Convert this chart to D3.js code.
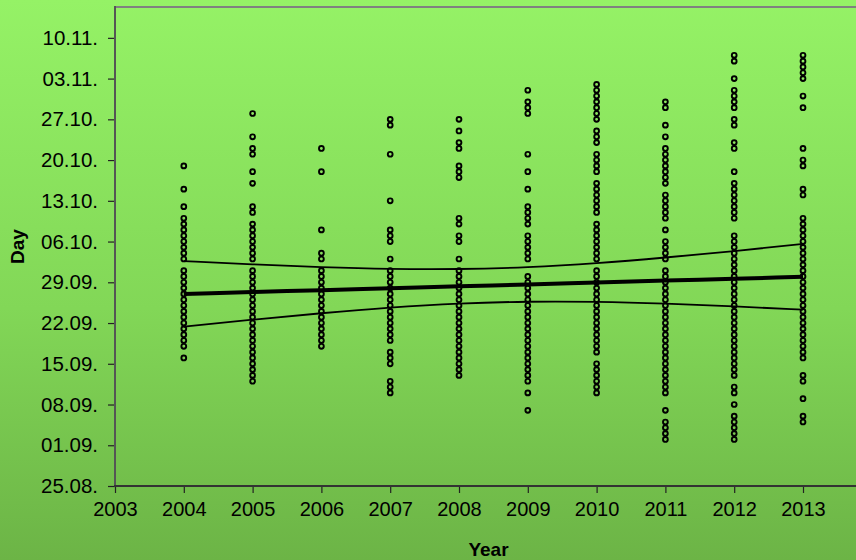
<!DOCTYPE html>
<html><head><meta charset="utf-8">
<script src="https://cdn.jsdelivr.net/npm/d3@7"></script>
<style>html,body{margin:0;padding:0;overflow:hidden;background:#7fd055;}</style>
</head><body>
<svg id="chart" width="856" height="560"></svg>
<script>
// ---- data ----
const years = [2004, 2005, 2006, 2007, 2008, 2009, 2010, 2011, 2012, 2013];
const xTickLabels = ["2003","2004","2005","2006","2007","2008","2009","2010","2011","2012","2013"];
const yTickLabels = ["25.08.","01.09.","08.09.","15.09.","22.09.","29.09.","06.10.","13.10.","20.10.","27.10.","03.11.","10.11."];

const d2004 = ["19.10","15.10","12.10","10.10","09.10","08.10","07.10","06.10","05.10","04.10","03.10","01.10","30.09","29.09","28.09","27.09","26.09","25.09","24.09","23.09","22.09","21.09","20.09","19.09","18.09","16.09"];
const d2005 = ["28.10","24.10","22.10","21.10","18.10","16.10","12.10","11.10","09.10","08.10","07.10","06.10","05.10","04.10","03.10","01.10","30.09","29.09","28.09","27.09","26.09","25.09","24.09","23.09","22.09","21.09","20.09","19.09","18.09","17.09","16.09","15.09","14.09","13.09","12.09"];
const d2006 = ["22.10","18.10","08.10","04.10","03.10","01.10","30.09","29.09","28.09","27.09","26.09","25.09","24.09","23.09","22.09","21.09","20.09","19.09","18.09"];
const d2007 = ["27.10","26.10","21.10","13.10","08.10","07.10","06.10","03.10","01.10","30.09","29.09","28.09","27.09","26.09","25.09","24.09","23.09","22.09","21.09","20.09","19.09","17.09","16.09","15.09","12.09","11.09","10.09"];
const d2008 = ["27.10","25.10","23.10","22.10","19.10","18.10","17.10","10.10","09.10","07.10","06.10","03.10","01.10","30.09","29.09","28.09","27.09","26.09","25.09","24.09","23.09","22.09","21.09","20.09","19.09","18.09","17.09","16.09","15.09","14.09","13.09"];
const d2009 = ["01.11","30.10","29.10","28.10","21.10","18.10","15.10","12.10","11.10","10.10","09.10","07.10","06.10","05.10","04.10","03.10","30.09","29.09","28.09","27.09","26.09","25.09","24.09","23.09","22.09","21.09","20.09","19.09","18.09","17.09","16.09","15.09","14.09","13.09","12.09","10.09","07.09"];
const d2010 = ["02.11","01.11","31.10","30.10","29.10","28.10","27.10","25.10","24.10","23.10","21.10","20.10","19.10","18.10","16.10","15.10","14.10","13.10","12.10","11.10","09.10","08.10","07.10","06.10","05.10","04.10","03.10","01.10","30.09","29.09","28.09","27.09","26.09","25.09","24.09","23.09","22.09","21.09","20.09","19.09","18.09","17.09","15.09","14.09","13.09","12.09","11.09","10.09"];
const d2011 = ["30.10","29.10","26.10","24.10","22.10","21.10","20.10","19.10","18.10","17.10","16.10","14.10","13.10","12.10","11.10","10.10","08.10","06.10","05.10","04.10","03.10","01.10","30.09","29.09","28.09","27.09","26.09","25.09","24.09","23.09","22.09","21.09","20.09","19.09","18.09","17.09","16.09","15.09","14.09","13.09","12.09","11.09","10.09","07.09","05.09","04.09","03.09","02.09"];
const d2012 = ["07.11","06.11","03.11","01.11","31.10","30.10","29.10","27.10","26.10","23.10","22.10","18.10","16.10","15.10","14.10","13.10","12.10","11.10","10.10","07.10","06.10","05.10","04.10","03.10","02.10","01.10","30.09","29.09","28.09","27.09","26.09","25.09","24.09","23.09","22.09","21.09","20.09","19.09","18.09","17.09","16.09","15.09","14.09","13.09","11.09","10.09","08.09","06.09","05.09","04.09","03.09","02.09"];
const d2013 = ["07.11","06.11","05.11","04.11","03.11","31.10","29.10","22.10","20.10","19.10","15.10","14.10","10.10","09.10","08.10","07.10","06.10","05.10","04.10","03.10","02.10","01.10","30.09","29.09","28.09","27.09","26.09","25.09","24.09","23.09","22.09","21.09","20.09","19.09","18.09","17.09","16.09","13.09","12.09","09.09","06.09","05.09"];
const datesByYear = [d2004, d2005, d2006, d2007, d2008, d2009, d2010, d2011, d2012, d2013];

// regression line and confidence band (day of year)
const trendDoy = [270.00, 270.33, 270.65, 270.98, 271.31, 271.63, 271.96, 272.29, 272.61, 272.94];
const upperDoy = [275.64, 275.09, 274.62, 274.31, 274.28, 274.60, 275.29, 276.26, 277.37, 278.58];
const lowerDoy = [264.36, 265.57, 266.68, 267.65, 268.34, 268.66, 268.63, 268.32, 267.85, 267.30];

// ---- helpers ----
const baseDate = new Date(2001, 0, 1);
function doy(s) {
  const p = s.split(".").map(Number);
  return d3.timeDay.count(baseDate, new Date(2001, p[1] - 1, p[0])) + 1;
}

const W = 856, H = 560;
const svg = d3.select("#chart");
const defs = svg.append("defs");
const grad = defs.append("linearGradient").attr("id","bg").attr("x1",0).attr("y1",0).attr("x2",0).attr("y2",1);
grad.append("stop").attr("offset","0%").attr("stop-color","#95f266");
grad.append("stop").attr("offset","55%").attr("stop-color","#82d757");
grad.append("stop").attr("offset","100%").attr("stop-color","#6cb446");
svg.append("rect").attr("width",W).attr("height",H).attr("fill","url(#bg)");

const plotLeft = 115, plotTop = 7, plotBottom = 486;
const x = d3.scaleLinear().domain([2003, 2014]).range([plotLeft, plotLeft + 11 * 68.8]);
const y = d3.scaleLinear().domain([237, 319.3]).range([plotBottom, plotTop]);

// frame
svg.append("line").attr("x1",plotLeft).attr("x2",W+5).attr("y1",plotTop).attr("y2",plotTop)
  .attr("stroke","#808080").attr("stroke-width",2);

// axes
const font = "'Liberation Sans', Arial, sans-serif";
const yAxis = d3.axisLeft(y)
  .tickValues(yTickLabels.map(doy))
  .tickFormat((d,i) => yTickLabels[i])
  .tickSize(7).tickPadding(10);
const gy = svg.append("g").attr("transform",`translate(${plotLeft},0)`).call(yAxis);
gy.select(".domain").remove();
gy.selectAll(".tick line").attr("stroke","#222").attr("stroke-width",1.2);
gy.selectAll(".tick text").attr("font-family",font).attr("font-size",20.5).attr("fill","#000");

const xAxis = d3.axisBottom(x)
  .tickValues(xTickLabels.map(Number))
  .tickFormat((d,i) => xTickLabels[i])
  .tickSize(7).tickPadding(9);
const gx = svg.append("g").attr("transform",`translate(0,${plotBottom})`).call(xAxis);
gx.select(".domain").remove();
gx.selectAll(".tick line").attr("stroke","#222").attr("stroke-width",1.2);
gx.selectAll(".tick text").attr("font-family",font).attr("font-size",20).attr("fill","#000");

svg.append("line").attr("x1",plotLeft).attr("x2",plotLeft).attr("y1",plotTop-1).attr("y2",plotBottom)
  .attr("stroke","#555").attr("stroke-width",2);
svg.append("line").attr("x1",plotLeft-1).attr("x2",W+5).attr("y1",plotBottom).attr("y2",plotBottom)
  .attr("stroke","#333").attr("stroke-width",2);

// points
const pts = [];
years.forEach((yr,i) => datesByYear[i].forEach(s => pts.push({yr, v: doy(s)})));
svg.append("g").selectAll("circle").data(pts).join("circle")
  .attr("cx", d => x(d.yr)).attr("cy", d => y(d.v)).attr("r", 2.4)
  .attr("fill","none").attr("stroke","#000").attr("stroke-width",1.9);

// lines
const mk = arr => d3.line().x((d,i) => x(years[i])).y(d => y(d)).curve(d3.curveNatural)(arr);
svg.append("path").attr("d", mk(upperDoy)).attr("fill","none").attr("stroke","#000").attr("stroke-width",1.8);
svg.append("path").attr("d", mk(lowerDoy)).attr("fill","none").attr("stroke","#000").attr("stroke-width",1.8);
svg.append("path").attr("d", mk(trendDoy)).attr("fill","none").attr("stroke","#000").attr("stroke-width",4);

// titles
svg.append("text").attr("x", 488.5).attr("y", 556).attr("text-anchor","middle")
  .attr("font-family",font).attr("font-weight","bold").attr("font-size",19).text("Year");
svg.append("text").attr("transform","translate(24,246.5) rotate(-90)").attr("text-anchor","middle")
  .attr("font-family",font).attr("font-weight","bold").attr("font-size",19).text("Day");
</script>
</body></html>
